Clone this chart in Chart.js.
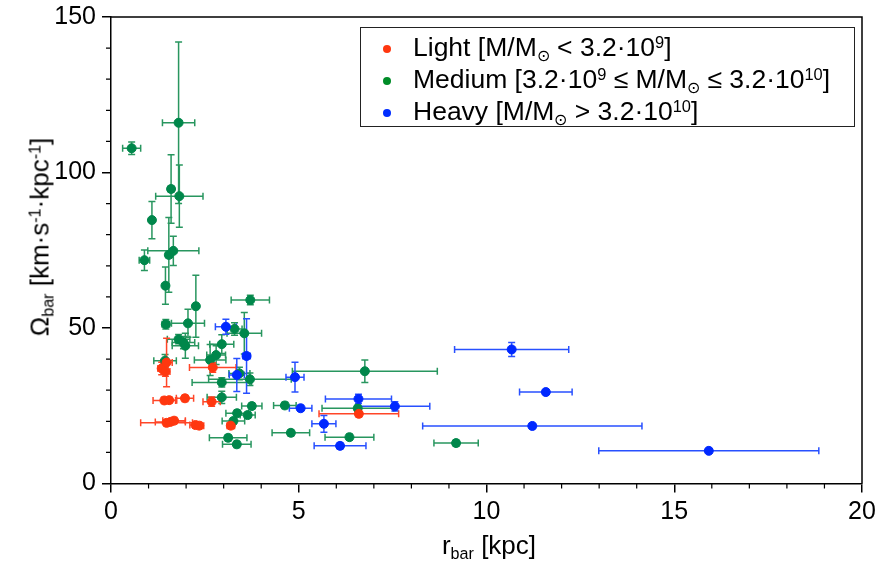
<!DOCTYPE html>
<html>
<head>
<meta charset="utf-8">
<script src="https://cdn.jsdelivr.net/npm/chart.js@4"></script>
<style>
  body { margin: 0; background: #fff; }
  #wrap { position: relative; width: 878px; height: 567px; font-family: "Liberation Sans", Arial, sans-serif; color: #000; }
  #legend { position: absolute; left: 360px; top: 27px; width: 495px; height: 100px; border: 1.5px solid #222; background: #fff; box-sizing: border-box; }
  .row { position: absolute; left: 0; height: 33px; font-size: 26.5px; line-height: 33px; white-space: nowrap; }
  .row .dot { position: absolute; left: 22px; top: 14px; width: 8px; height: 8px; border-radius: 50%; }
  .row .txt { position: absolute; left: 52px; top: 0; }
  sup { font-size: 0.62em; vertical-align: 0.5em; line-height: 0; }
  sub { font-size: 0.62em; vertical-align: -0.3em; line-height: 0; }
  #xtitle { position: absolute; left: 0; width: 878px; top: 530px; text-align: center; font-size: 26px; padding-left: 100px; box-sizing: border-box; }
  #ytitle { position: absolute; left: 40px; top: 237px; transform: translate(-50%, -50%) rotate(-90deg); font-size: 26px; white-space: nowrap; }
</style>
</head>
<body>
<div id="wrap">
  <canvas id="chart" width="878" height="567"></canvas>
  <div id="legend">
    <div class="row" style="top:3px"><span class="dot" style="background:rgb(255,55,15)"></span><span class="txt">Light [M/M<sub>⊙</sub> &lt; 3.2·10<sup>9</sup>]</span></div>
    <div class="row" style="top:35px"><span class="dot" style="background:rgb(0,140,40)"></span><span class="txt">Medium [3.2·10<sup>9</sup> ≤ M/M<sub>⊙</sub> ≤ 3.2·10<sup>10</sup>]</span></div>
    <div class="row" style="top:67px"><span class="dot" style="background:rgb(0,45,255)"></span><span class="txt">Heavy [M/M<sub>⊙</sub> &gt; 3.2·10<sup>10</sup>]</span></div>
  </div>
  <div id="xtitle">r<sub>bar</sub> [kpc]</div>
  <div id="ytitle">Ω<sub>bar</sub> [km·s<sup>-1</sup>·kpc<sup>-1</sup>]</div>
</div>
<script>
// Light
var lightR   = [1.35, 1.45, 1.48, 2.71, 1.42, 1.55, 1.97, 2.68, 1.48, 1.58, 1.68, 2.25, 2.35, 3.19, 6.60];
var lightOm  = [37.0, 36.0, 38.9, 37.3, 26.7, 26.8, 27.4, 26.3, 19.5, 19.8, 20.2, 18.8, 18.6, 18.6, 22.4];
var lightRe  = [0.10, 0.12, 0.15, 0.62, 0.30, 0.20, 0.23, 0.23, 0.69, 0.40, 0.30, 0.15, 0.12, 0.10, 1.06];
var lightOme = [2.0, 1.5, 7.8, 1.5, 1.0, 1.0, 1.0, 1.5, 1.0, 1.0, 1.0, 1.0, 1.0, 1.0, 1.0];

// Medium
var medR   = [0.55, 1.80, 1.82, 1.60, 1.09, 0.89, 1.54, 1.66, 1.45, 2.26, 1.46, 2.05, 1.80, 1.93, 1.98, 1.44,
              3.71, 3.29, 3.55, 2.95, 2.80, 2.64, 3.42, 3.70, 2.95, 6.76, 2.95, 3.75, 4.63, 6.57, 3.36, 3.26,
              3.64, 3.12, 3.35, 4.79, 6.35, 9.19];
var medOm  = [107.8, 116.0, 92.4, 94.7, 84.7, 71.8, 73.5, 74.8, 63.6, 57.0, 51.2, 51.5, 46.4, 45.3, 44.3, 39.5,
              59.0, 49.7, 48.3, 44.8, 41.3, 39.7, 35.4, 33.5, 32.5, 36.1, 27.7, 24.9, 25.1, 24.2, 22.6, 20.1,
              22.0, 14.7, 12.6, 16.3, 14.9, 13.0];
var medRe  = [0.24, 0.43, 0.63, 0.08, 0.05, 0.14, 0.08, 0.68, 0.05, 0.06, 0.10, 0.44, 0.30, 0.30, 0.35, 0.30,
              0.51, 0.20, 0.46, 0.32, 0.25, 0.42, 0.28, 1.10, 0.79, 1.93, 0.39, 0.27, 0.30, 0.95, 0.30, 0.30,
              0.20, 0.50, 0.38, 0.50, 0.65, 0.59];
var medOme = [2.0, 26.0, 10.0, 11.0, 6.0, 3.3, 12.0, 4.7, 6.0, 10.0, 1.5, 4.5, 1.5, 2.0, 4.0, 2.0,
              1.5, 2.0, 6.7, 3.0, 3.0, 5.0, 2.0, 2.0, 1.5, 3.6, 2.0, 1.0, 1.0, 1.0, 1.0, 1.0,
              1.0, 1.0, 1.0, 1.0, 1.0, 1.0];

// Heavy
var heavyR   = [3.06, 3.61, 3.35, 4.90, 5.05, 6.59, 7.56, 5.67, 6.10, 10.67, 11.58, 11.22, 15.92];
var heavyOm  = [50.4, 41.0, 34.9, 34.2, 24.2, 27.2, 24.8, 19.2, 12.1, 43.1, 29.4, 18.5, 10.5];
var heavyRe  = [0.28, 0.10, 0.20, 0.24, 0.30, 0.88, 0.93, 0.32, 0.69, 1.52, 0.70, 2.92, 2.93];
var heavyOme = [2.4, 12.0, 5.3, 4.8, 1.0, 1.5, 1.5, 2.7, 1.0, 2.25, 0.8, 0.8, 0.8];

var FONT = '"Liberation Sans", Arial, sans-serif';

function pts(xs, ys, xe, ye) {
    return xs.map((v, i) => ({ x: v, y: ys[i], xe: xe[i], ye: ye[i] }));
}

const errorBars = {
    id: 'errorBars',
    beforeDatasetsDraw(chart) {
        const ctx = chart.ctx;
        const sx = chart.scales.x, sy = chart.scales.y;
        ctx.save();
        ctx.lineWidth = 1.5;
        chart.data.datasets.forEach(ds => {
            ctx.strokeStyle = ds.errorColor;
            ds.data.forEach(p => {
                const px = sx.getPixelForValue(p.x), py = sy.getPixelForValue(p.y);
                const xl = sx.getPixelForValue(p.x - p.xe), xr = sx.getPixelForValue(p.x + p.xe);
                const yt = sy.getPixelForValue(p.y + p.ye), yb = sy.getPixelForValue(p.y - p.ye);
                const c = 3.5;
                ctx.beginPath();
                ctx.moveTo(xl, py); ctx.lineTo(xr, py);
                ctx.moveTo(xl, py - c); ctx.lineTo(xl, py + c);
                ctx.moveTo(xr, py - c); ctx.lineTo(xr, py + c);
                ctx.moveTo(px, yt); ctx.lineTo(px, yb);
                ctx.moveTo(px - c, yt); ctx.lineTo(px + c, yt);
                ctx.moveTo(px - c, yb); ctx.lineTo(px + c, yb);
                ctx.stroke();
            });
        });
        ctx.restore();
    }
};

const frame = {
    id: 'frame',
    afterDraw(chart) {
        const ctx = chart.ctx, a = chart.chartArea;
        const sx = chart.scales.x, sy = chart.scales.y;
        ctx.save();
        ctx.strokeStyle = '#000';
        ctx.lineWidth = 1.5;
        ctx.beginPath();
        ctx.moveTo(a.left, a.top); ctx.lineTo(a.right, a.top); ctx.lineTo(a.right, a.bottom);
        ctx.stroke();
        ctx.lineWidth = 1.2;
        ctx.beginPath();
        for (let v = 1; v < 20; v++) {
            if (v % 5 === 0) continue;
            const px = sx.getPixelForValue(v);
            ctx.moveTo(px, a.bottom); ctx.lineTo(px, a.bottom + 5);
        }
        for (let v = 10; v < 150; v += 10) {
            if (v % 50 === 0) continue;
            const py = sy.getPixelForValue(v);
            ctx.moveTo(a.left, py); ctx.lineTo(a.left - 5, py);
        }
        ctx.stroke();
        ctx.restore();
    }
};

const ctx = document.getElementById('chart').getContext('2d');
var chart1 = new Chart(ctx, {
    type: 'scatter',
    data: {
        datasets: [
            {
                label: 'Medium',
                data: pts(medR, medOm, medRe, medOme),
                backgroundColor: 'rgb(0,135,75)',
                borderColor: 'rgb(0,135,75)',
                errorColor: 'rgb(40,150,95)',
                pointRadius: 4.5,
                order: 3
            },
            {
                label: 'Light',
                data: pts(lightR, lightOm, lightRe, lightOme),
                backgroundColor: 'rgb(255,55,15)',
                borderColor: 'rgb(255,55,15)',
                errorColor: 'rgb(255,70,40)',
                pointRadius: 4.5,
                order: 2
            },
            {
                label: 'Heavy',
                data: pts(heavyR, heavyOm, heavyRe, heavyOme),
                backgroundColor: 'rgb(0,40,255)',
                borderColor: 'rgb(0,40,255)',
                errorColor: 'rgb(40,80,255)',
                pointRadius: 4.5,
                order: 1
            }
        ]
    },
    options: {
        responsive: false,
        animation: false,
        layout: { padding: { top: 17, right: 16, left: 0, bottom: 0 } },
        plugins: {
            legend: { display: false },
            tooltip: { enabled: false }
        },
        scales: {
            x: {
                type: 'linear',
                min: 0,
                max: 20,
                afterFit: s => { s.height = 83.5; s.paddingRight = 0; s.paddingLeft = 0; },
                ticks: { stepSize: 5, color: '#000', font: { family: FONT, size: 25 }, padding: 5, maxRotation: 0 },
                grid: { drawOnChartArea: false, tickLength: 9, color: '#000', lineWidth: 1.5 },
                border: { color: '#000', width: 1.5 }
            },
            y: {
                type: 'linear',
                min: 0,
                max: 150,
                afterFit: s => { s.width = 111; s.paddingTop = 0; s.paddingBottom = 0; },
                ticks: { stepSize: 50, color: '#000', font: { family: FONT, size: 25 }, padding: 6 },
                grid: { drawOnChartArea: false, tickLength: 9, color: '#000', lineWidth: 1.5 },
                border: { color: '#000', width: 1.5 }
            }
        }
    },
    plugins: [errorBars, frame]
});
</script>
</body>
</html>
